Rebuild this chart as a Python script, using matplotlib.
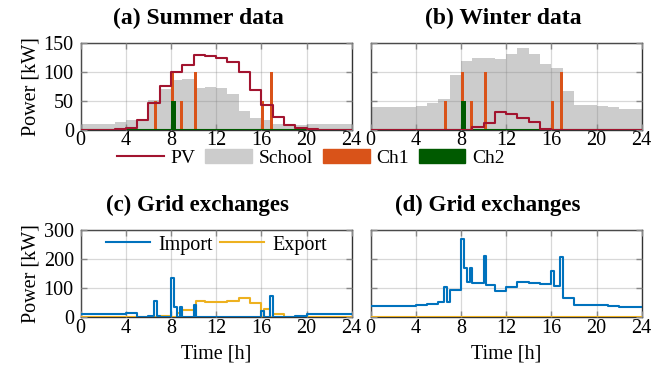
import matplotlib
matplotlib.use('Agg')
import numpy as np
from matplotlib import pyplot as plt
from matplotlib.patches import Patch
from matplotlib.lines import Line2D

plt.rcParams['font.family'] = ['Liberation Serif', 'DejaVu Serif']
plt.rcParams['font.size'] = 14.5

hours = np.arange(24)

# hourly school load and PV [kW]
school_summer = [10, 10, 10, 14, 18, 18, 52, 71, 87, 88, 72, 74,
                 72, 62, 33, 20, 17, 10, 9, 9, 10, 10, 10, 10]
pv_summer = [0, 0, 0, 1, 4, 18, 47, 76, 101, 112, 129, 128,
             124, 118, 100, 69, 44, 22, 9, 4, 1, 0, 0, 0]
school_winter = [40, 40, 40, 40, 42, 47, 54, 95, 120, 124, 124, 123,
                 131, 142, 131, 115, 108, 67, 43, 43, 42, 40, 37, 37]
pv_winter = [0, 0, 0, 0, 0, 0, 0, 0, 0, 5, 12, 31,
             27, 20, 14, 2, 0, 0, 0, 0, 0, 0, 0, 0]

# charging sessions (start [h], power [kW]), same both seasons
ch1_start = [6.5, 8.0, 8.75, 10.0, 16.0, 16.75]
ch1_power = [50, 100, 50, 100, 50, 100]
ch2_start = [8.0]
ch2_power = [50]

# grid exchanges as step breakpoints
sum_imp_t = [0, 3, 4, 5, 6, 6.5, 6.75, 7, 8, 8.25, 8.5, 8.75, 9, 10, 10.25,
             16, 16.25, 16.75, 17, 19, 20, 24]
sum_imp = [10, 13, 14, 0, 5, 55, 5, 0, 136, 36, 0, 36, 0, 43, 0,
           23, 0, 73, 0, 5, 10, 10]
sum_exp_t = [0, 7, 8, 8.5, 8.75, 9, 10, 10.25, 11, 12, 13, 14, 15, 16,
             16.25, 16.75, 17, 18, 24]
sum_exp = [0, 5, 0, 14, 0, 25, 0, 57, 54, 52, 56, 67, 49, 0,
           27, 0, 12, 0, 0]
win_imp_t = [0, 4, 5, 6, 6.5, 6.75, 7, 8, 8.25, 8.5, 8.75, 9, 10, 10.25, 11,
             12, 13, 14, 15, 16, 16.25, 16.75, 17, 18, 20, 21, 22, 24]
win_imp = [40, 42, 47, 54, 104, 54, 95, 270, 170, 120, 169, 119, 212, 112, 92,
           104, 122, 117, 113, 158, 108, 208, 67, 43, 42, 40, 37, 37]
win_exp_t = [0, 24]
win_exp = [0, 0]

c_pv = '#A2142F'
c_school = '#cccccc'
c_ch1 = '#D95319'
c_ch2 = '#005a00'
c_imp = '#0072BD'
c_exp = '#EDB120'

fig = plt.figure(figsize=(6.52, 3.78), dpi=100)
W, H = 652, 378

def place(x0, x1, ytop, ybot):
    return fig.add_axes([x0 / W, 1 - ybot / H, (x1 - x0) / W, (ybot - ytop) / H])

ax_a = place(80.7, 351.7, 43.3, 130)
ax_b = place(370.7, 641.7, 43.3, 130)
ax_c = place(80.7, 351.7, 230, 317.3)
ax_d = place(370.7, 641.7, 230, 317.3)

def style(ax, ymax, yticks, ylabels):
    ax.set_xlim(0, 24)
    ax.set_ylim(0, ymax)
    ax.set_xticks(range(0, 25, 4))
    ax.set_yticks(yticks)
    if not ylabels:
        ax.set_yticklabels([])
    ax.grid(True, color='gray', alpha=0.3, lw=0.9)
    ax.set_axisbelow(False)
    ax.tick_params(direction='in', length=4, width=1.0, color='#888888',
                   top=True, right=True)
    ax.tick_params(axis='x', pad=1)
    ax.tick_params(axis='y', pad=5)
    for s in ax.spines.values():
        s.set_color('#333333')
        s.set_linewidth(1.0)

def top_panel(ax, school, pv, title, tx, ylabels):
    ax.bar(hours, school, width=1, align='edge', color=c_school, zorder=1)
    ax.bar(ch1_start, ch1_power, width=0.27, align='edge', color=c_ch1, zorder=3)
    ax.bar(ch2_start, ch2_power, width=0.45, align='edge', color=c_ch2, zorder=3.5)
    ax.axhline(0, color=c_ch2, lw=1.5, zorder=3.6)
    ax.step(list(hours) + [24], list(pv) + [pv[-1]], where='post',
            color=c_pv, lw=1.5, zorder=4)
    style(ax, 150, [0, 50, 100, 150], ylabels)
    ax.set_title(title, fontweight='bold', fontsize=17, pad=14, x=tx)

def bottom_panel(ax, it, iv, et, ev, title, tx, ylabels):
    ax.step(it, iv, where='post', color=c_imp, lw=1.5, zorder=4, label='Import')
    ax.step(et, ev, where='post', color=c_exp, lw=1.5, zorder=3.9, label='Export')
    style(ax, 300, [0, 100, 200, 300], ylabels)
    ax.set_title(title, fontweight='bold', fontsize=16.5, pad=14, x=tx)
    ax.set_xlabel('Time [h]', labelpad=5)

top_panel(ax_a, school_summer, pv_summer, '(a) Summer data', 0.435, True)
top_panel(ax_b, school_winter, pv_winter, '(b) Winter data', 0.49, False)
bottom_panel(ax_c, sum_imp_t, sum_imp, sum_exp_t, sum_exp,
             '(c) Grid exchanges', 0.43, True)
bottom_panel(ax_d, win_imp_t, win_imp, win_exp_t, win_exp,
             '(d) Grid exchanges', 0.43, False)

ax_a.set_ylabel('Power [kW]', labelpad=2)
ax_c.set_ylabel('Power [kW]', labelpad=2)

ax_c.legend(loc='center', ncol=2, frameon=False, handlelength=2.2,
            columnspacing=0.35, handletextpad=0.4, borderpad=0,
            bbox_to_anchor=(0.5, 1 - 15 / 87.3))

handles = [Line2D([], [], color=c_pv, lw=1.5),
           Patch(color=c_school), Patch(color=c_ch1), Patch(color=c_ch2)]
fig.legend(handles, ['PV', 'School', 'Ch1', 'Ch2'], loc='center', ncol=4,
           frameon=False, bbox_to_anchor=(311 / W, 1 - 158 / H),
           fontsize=14, handlelength=2.4, handleheight=0.7, columnspacing=0.5,
           handletextpad=0.35, borderpad=0)

fig.savefig('out.png', dpi=100)
